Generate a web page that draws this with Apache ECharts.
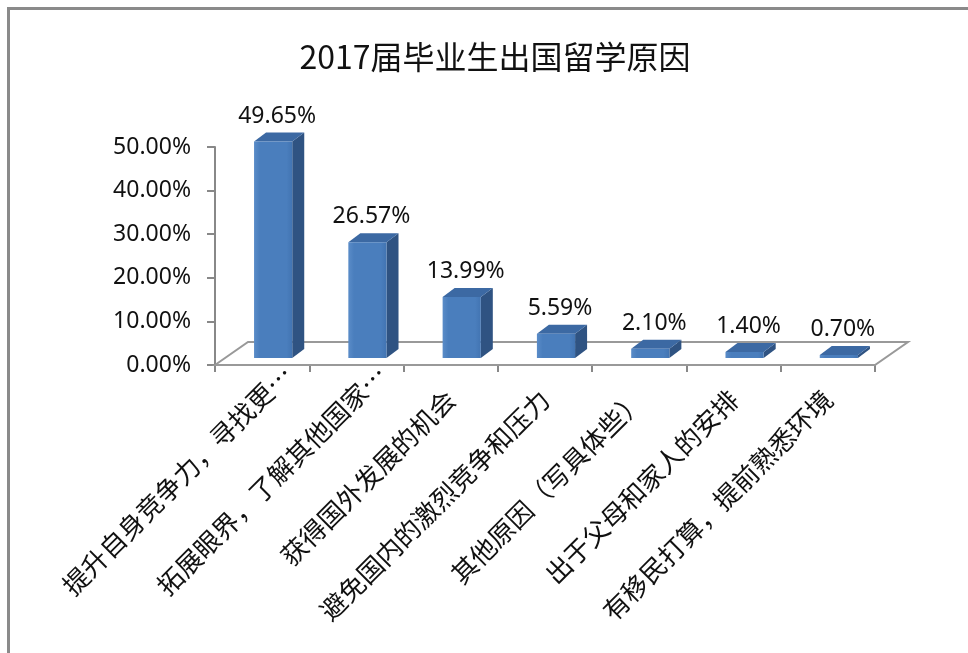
<!DOCTYPE html>
<html><head><meta charset="utf-8">
<script src="https://cdn.jsdelivr.net/npm/echarts/dist/echarts.min.js"></script>
<style>html,body{margin:0;padding:0;background:#fff}#c{width:968px;height:653px}</style>
</head><body><div id="c"></div>
<script>
const chartTitle = '2017届毕业生出国留学原因';
const categories = ['提升自身竞争力，寻找更…', '拓展眼界，了解其他国家…', '获得国外发展的机会', '避免国内的激烈竞争和压力', '其他原因（写具体些）', '出于父母和家人的安排', '有移民打算，提前熟悉环境'];
const values = [49.65, 26.57, 13.99, 5.59, 2.10, 1.40, 0.70];
const yMin = 0, yMax = 50, yInterval = 10;

const FRONT = '#4a7ebd', SIDE = '#2f5382', TOPC = '#3c69a3';
const numFont = 'Noto Sans';
const cjkFont = 'Noto Sans CJK SC';

function renderFloor(params, api) {
  const band = api.size([1, 0])[0];
  const p0 = api.coord([0, 0]);
  const pn = api.coord([categories.length - 1, 0]);
  const l = p0[0] - band / 2, r = pn[0] + band / 2, y = p0[1];
  const dx = 33, dy = -23;
  return {
    type: 'polygon',
    shape: { points: [[l, y], [l + dx, y + dy], [r + dx, y + dy], [r, y]] },
    style: { fill: '#fff', stroke: '#999', lineWidth: 2 },
    z2: 0
  };
}

function renderBar(params, api) {
  const i = api.value(0), v = api.value(1);
  const base = api.coord([i, 0]);
  const top = api.coord([i, v]);
  const band = api.size([1, 0])[0];
  const w = band * 0.405;
  const ox = 11, oy = -7, dx = 12, dy = -9;
  const x0 = base[0] + ox - w / 2, x1 = x0 + w;
  const yb = base[1] + oy, yt = top[1] + oy;
  return {
    type: 'group',
    children: [
      { type: 'polygon', shape: { points: [[x1, yt], [x1 + dx, yt + dy], [x1 + dx, yb + dy], [x1, yb]] }, style: { fill: SIDE } },
      { type: 'polygon', shape: { points: [[x0, yt], [x0 + dx, yt + dy], [x1 + dx, yt + dy], [x1, yt]] }, style: { fill: TOPC } },
      { type: 'rect', shape: { x: x0, y: yt, width: w, height: yb - yt }, style: {
          fill: { type: 'linear', x: 0, y: 0, x2: 1, y2: 0, colorStops: [
            { offset: 0, color: '#5a8cc8' }, { offset: 0.15, color: FRONT }, { offset: 0.85, color: FRONT }, { offset: 1, color: '#4274b2' }] } } },
      { type: 'text', style: {
          text: v.toFixed(2) + '%', x: x0 + w / 2 + 4, y: yt + dy - 5,
          align: 'center', verticalAlign: 'bottom',
          fill: '#111', font: '23px "' + numFont + '"' } }
    ]
  };
}

const chart = echarts.init(document.getElementById('c'), null, { renderer: 'canvas' });
chart.setOption({
  animation: false,
  backgroundColor: '#fff',
  title: {
    text: chartTitle, left: 490, top: 36, textAlign: 'center',
    textStyle: { fontSize: 32, fontWeight: 'normal', color: '#111', fontFamily: cjkFont }
  },
  graphic: [{ type: 'rect', shape: { x: 8.5, y: 8.5, width: 1000, height: 700 }, style: { fill: 'none', stroke: '#8a8a8a', lineWidth: 3 }, z: 100 }],
  grid: { left: 215, right: 93, top: 147, bottom: 288, containLabel: false },
  xAxis: {
    type: 'category', data: categories, boundaryGap: true,
    axisLine: { show: true, lineStyle: { color: '#888', width: 2 } },
    axisTick: { show: true, length: 7, lineStyle: { color: '#888', width: 2 } },
    axisLabel: {
      interval: 0, rotate: 45, margin: 30, fontSize: 26, color: '#111', fontFamily: cjkFont,
      formatter: t => t.endsWith('…') ? '{cut|' + t + '}' : t,
      rich: { cut: { fontSize: 26, color: '#111', fontFamily: cjkFont, padding: [0, -36, 0, 0] } }
    },
    splitLine: { show: false }
  },
  yAxis: {
    type: 'value', min: yMin, max: yMax, interval: yInterval,
    axisLine: { show: true, lineStyle: { color: '#888', width: 2 } },
    axisTick: { show: true, length: 8, lineStyle: { color: '#888', width: 2 } },
    axisLabel: { margin: 24, fontSize: 23, color: '#111', fontFamily: numFont, formatter: v => v.toFixed(2) + '%' },
    splitLine: { show: false }
  },
  series: [
    { type: 'custom', renderItem: renderFloor, data: [[0]], silent: true, z: 1 },
    { type: 'custom', renderItem: renderBar, data: values.map((v, i) => [i, v]), z: 2, encode: { x: 0, y: 1 } }
  ]
});
</script>
</body></html>
